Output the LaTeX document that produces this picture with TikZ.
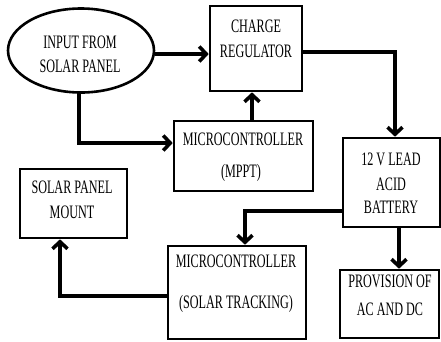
\documentclass[tikz,border=0pt]{standalone}
\usepackage{fontspec}
\setmainfont{Liberation Serif}[FakeStretch=0.64]
\usetikzlibrary{arrows.meta,shapes.geometric}
\begin{document}
\begin{tikzpicture}[x=1pt,y=-1pt,
  box/.style={draw,line width=2.6pt,rectangle,inner sep=0pt},
  txt/.style={anchor=base,inner sep=0pt,font=\fontsize{19}{23}\selectfont},
  conn/.style={line width=3.6pt,-{Straight Barb[length=7pt,width=15pt]},line join=miter}]
\useasboundingbox (0,0) rectangle (441,341);
% shapes
\node[draw,ellipse,line width=2.6pt,minimum width=146pt,minimum height=84pt,inner sep=0pt] (inp) at (81,50.5) {};
\node[box,minimum width=92pt,minimum height=85pt] (chg) at (256,48.5) {};
\node[box,minimum width=139pt,minimum height=70pt] (mppt) at (243.5,156) {};
\node[box,minimum width=97pt,minimum height=89pt] (bat) at (391.5,182.5) {};
\node[box,minimum width=107pt,minimum height=69pt] (mnt) at (73.5,203.5) {};
\node[box,minimum width=138pt,minimum height=93pt] (trk) at (237,292.5) {};
\node[box,minimum width=99pt,minimum height=68pt] (prov) at (389.5,304) {};
% texts
\node[txt] (inp1) at (80,48) {INPUT FROM};
\node[txt] (inp2) at (80,72) {SOLAR PANEL};
\node[txt] (chg1) at (256,32) {CHARGE};
\node[txt] (chg2) at (256,57) {REGULATOR};
\node[txt] (mppt1) at (243,145) {MICROCONTROLLER};
\node[txt] (mppt2) at (241,177) {(MPPT)};
\node[txt] (bat1) at (391,165) {12 V LEAD};
\node[txt] (bat2) at (391,190) {ACID};
\node[txt] (bat3) at (391,213) {BATTERY};
\node[txt] (mnt1) at (72,193) {SOLAR PANEL};
\node[txt] (mnt2) at (72,218) {MOUNT};
\node[txt] (trk1) at (236,267) {MICROCONTROLLER};
\node[txt] (trk2) at (236,308) {(SOLAR TRACKING)};
\node[txt] (prov1) at (390,287) {PROVISION OF};
\node[txt] (prov2) at (390,315) {AC AND DC};
% connectors
\draw[conn] ([yshift=-3.5pt]inp.east) -- ([yshift=-3.5pt]inp.east -| chg.west);
\draw[conn] ([yshift=-3.5pt]chg.east) -| ([xshift=3.5pt]bat.north);
\draw[conn] ([xshift=8.5pt]mppt.north) -- ([xshift=8.5pt]mppt.north |- chg.south);
\draw[conn] ([xshift=-2pt]inp.south) |- ([yshift=13pt]mppt.west);
\draw[conn] ([yshift=-28.5pt]bat.west) -| ([xshift=8pt]trk.north);
\draw[conn] ([xshift=7.5pt]bat.south) -- ([xshift=7.5pt]bat.south |- prov.north);
\draw[conn] ([yshift=-3.5pt]trk.west) -| ([xshift=-13.5pt]mnt.south);
\end{tikzpicture}
\end{document}
